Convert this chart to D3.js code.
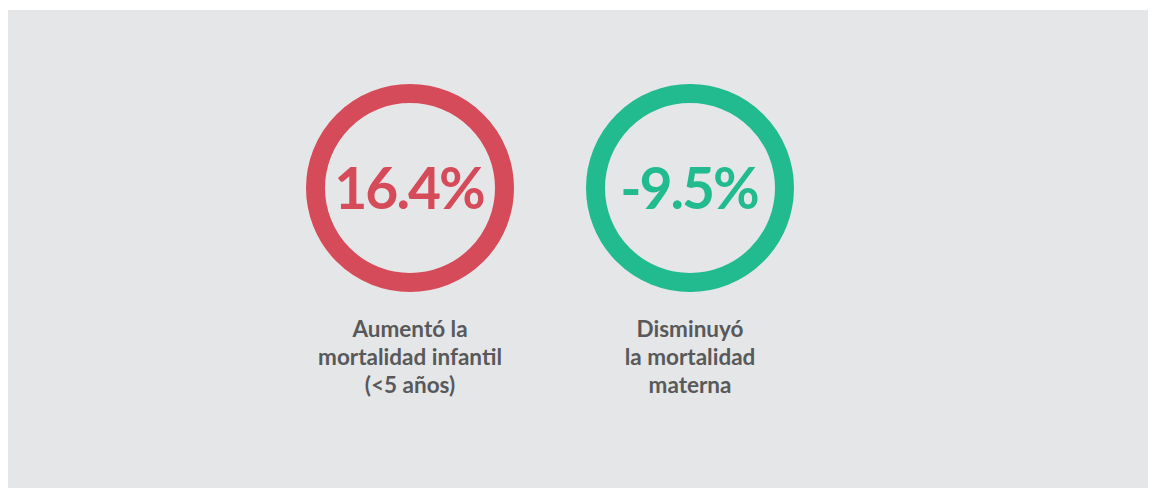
<!DOCTYPE html>
<html>

<head>
    <meta charset="UTF-8" />
    <title>Mortalidad infantil y materna</title>
    <script src="https://d3js.org/d3.v7.min.js"></script>
    <style>
        body {
            margin: 0;
            background: white;
        }

        .value {
            text-anchor: middle;
            font-family: Lato, "Open Sans", sans-serif;
            font-weight: bold;
            font-size: 57px;
            letter-spacing: -2px;
        }

        .label {
            text-anchor: middle;
            font-family: Lato, "Open Sans", sans-serif;
            font-weight: bold;
            font-size: 22.5px;
            fill: #58595b;
        }
    </style>
</head>

<body>
    <svg width="1156" height="489"></svg>

    <script>
        // data
        const categories = ["infantil", "materna"];
        const values = [16.4, -9.5];
        const labels = [
            ["Aumentó la", "mortalidad infantil", "(<5 años)"],
            ["Disminuyó", "la mortalidad", "materna"]
        ];
        const colors = ["#d64b59", "#22bb8f"];

        var svg = d3.select("svg");

        // gray panel
        svg.append("rect")
            .attr("x", 8)
            .attr("y", 10)
            .attr("width", 1140)
            .attr("height", 478)
            .attr("fill", "#e5e6e8");

        var xScale = d3.scalePoint().domain(categories).range([410, 690]);
        var cy = 188;
        var r = 94.5;

        // plain hyphen for the minus, like the original
        var fmt = v => d3.format(".1f")(v).replace("\u2212", "-");

        var g = svg.selectAll(".item")
            .data(categories)
            .enter()
            .append("g")
            .attr("class", "item")
            .attr("transform", d => "translate(" + xScale(d) + "," + cy + ")");

        g.append("circle")
            .attr("r", r)
            .attr("fill", "none")
            .attr("stroke", (d, i) => colors[i])
            .attr("stroke-width", 19);

        g.append("text")
            .attr("class", "value")
            .attr("x", -1)
            .attr("y", 21)
            .attr("fill", (d, i) => colors[i])
            .text((d, i) => fmt(values[i]) + "%");

        g.each(function (d, i) {
            d3.select(this).selectAll(".label")
                .data(labels[i])
                .enter()
                .append("text")
                .attr("class", "label")
                .attr("y", (t, j) => 149 + j * 28)
                .text(t => t);
        });
    </script>
</body>

</html>
